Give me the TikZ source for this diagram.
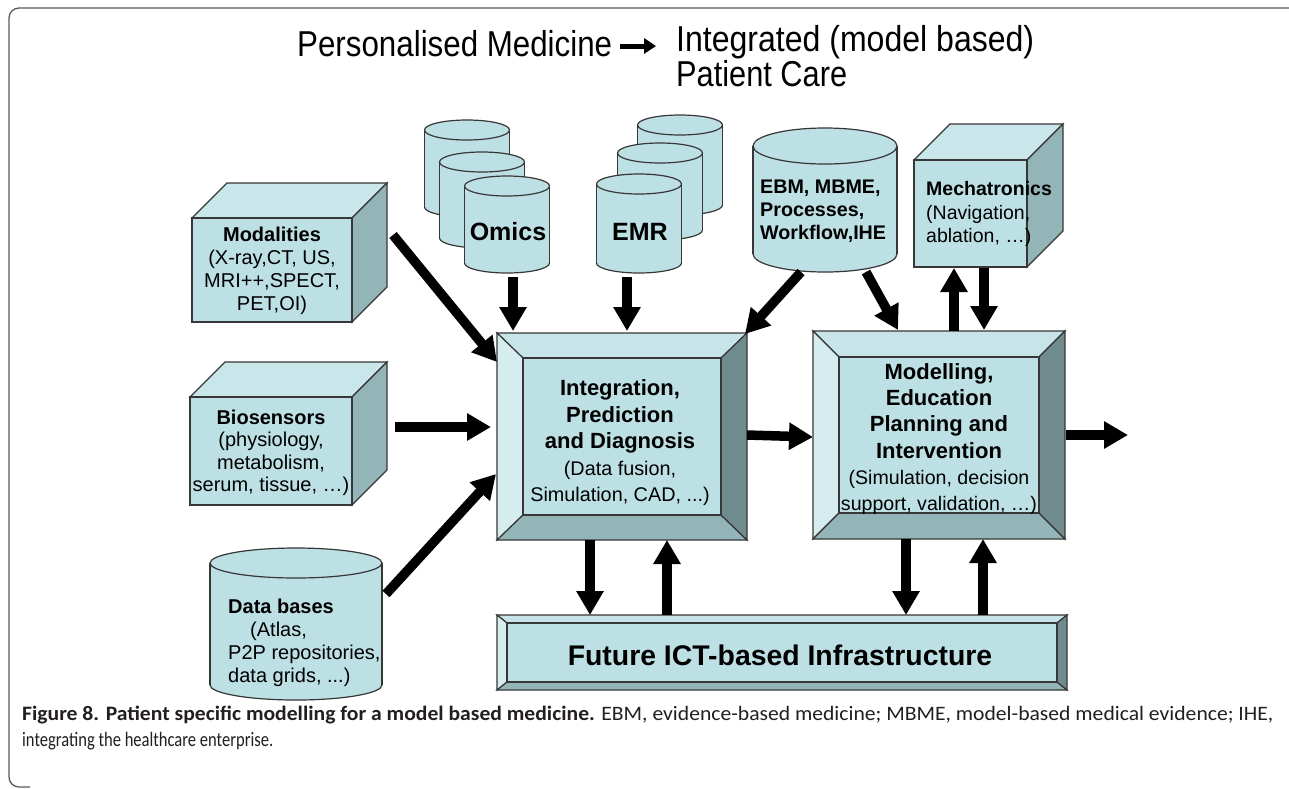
\documentclass[tikz,border=0pt]{standalone}
\usepackage{fontspec}
\usepackage{graphicx}
\setmainfont{Liberation Sans}
\newfontfamily\capfont{Carlito}
\usetikzlibrary{arrows.meta}
\definecolor{cface}{RGB}{189,224,228}
\definecolor{ctop}{RGB}{201,230,234}
\definecolor{cside}{RGB}{148,181,184}
\definecolor{btop}{RGB}{199,228,232}
\definecolor{bleft}{RGB}{214,237,240}
\definecolor{bbot}{RGB}{148,181,184}
\definecolor{bright}{RGB}{111,139,141}
\definecolor{edgecol}{RGB}{55,55,55}
\definecolor{framecol}{RGB}{90,90,90}
\definecolor{captext}{RGB}{35,31,32}
\tikzset{
  shapeline/.style={draw=edgecol, line width=1.2pt, line join=miter},
  bigarrow/.style={line width=9.5pt, -{Triangle[width=26pt,length=24pt]}},
  titlearrow/.style={line width=5pt, -{Triangle[width=15pt,length=12pt]}},
  txt/.style={inner sep=0pt, align=center, text=black},
  txtl/.style={inner sep=0pt, align=left, text=black},
}
\newcommand{\cubeshape}[5]{%
  \filldraw[shapeline, fill=ctop] (#1,#2) -- ({#1+#5},{#2-#5}) -- ({#3+#5},{#2-#5}) -- (#3,#2) -- cycle;
  \filldraw[shapeline, fill=cside] (#3,#2) -- ({#3+#5},{#2-#5}) -- ({#3+#5},{#4-#5}) -- (#3,#4) -- cycle;
  \filldraw[shapeline, fill=cface] (#1,#2) rectangle (#3,#4);
}
\newcommand{\cylshape}[5]{%
  \filldraw[shapeline, fill=cface] (#1,#3) ellipse [x radius=#4, y radius=#5];
  \fill[cface] ({#1-#4},#2) rectangle ({#1+#4},#3);
  \draw[shapeline] ({#1-#4},#2) -- ({#1-#4},#3) ({#1+#4},#2) -- ({#1+#4},#3);
  \filldraw[shapeline, fill=cface] (#1,#2) ellipse [x radius=#4, y radius=#5];
}
\newcommand{\bevelbox}[6]{%
  \filldraw[shapeline, fill=btop] (#1,#2) -- (#3,#2) -- ({#3-#5},{#2+#6}) -- ({#1+#5},{#2+#6}) -- cycle;
  \filldraw[shapeline, fill=bleft] (#1,#2) -- ({#1+#5},{#2+#6}) -- ({#1+#5},{#4-#6}) -- (#1,#4) -- cycle;
  \filldraw[shapeline, fill=bbot] (#1,#4) -- ({#1+#5},{#4-#6}) -- ({#3-#5},{#4-#6}) -- (#3,#4) -- cycle;
  \filldraw[shapeline, fill=bright] (#3,#2) -- ({#3-#5},{#2+#6}) -- ({#3-#5},{#4-#6}) -- (#3,#4) -- cycle;
  \filldraw[shapeline, fill=cface] ({#1+#5},{#2+#6}) rectangle ({#3-#5},{#4-#6});
}
\begin{document}
\begin{tikzpicture}[x=1pt, y=-1pt]
\useasboundingbox[fill=white] (0,0) rectangle (1289,788);
% frame
\draw[framecol, line width=1.3pt, rounded corners=10pt] (30,787) -- (9,787) -- (9,8) -- (1289,8);

% title
\node[anchor=base west, inner sep=0pt] (t1) at (297,56) {\resizebox{315pt}{\height}{\fontsize{36}{36}\selectfont Personalised Medicine}};
\node[anchor=base west, inner sep=0pt] (t2) at (676,51) {\resizebox{358pt}{\height}{\fontsize{36}{36}\selectfont Integrated (model based)}};
\node[anchor=base west, inner sep=0pt] (t3) at (676,86) {\resizebox{171pt}{\height}{\fontsize{36}{36}\selectfont Patient Care}};
\coordinate (ta) at (620,46);
\coordinate (tb) at (656,46);
\draw[titlearrow] (ta) -- (tb);

% cubes
\cubeshape{192}{218}{352}{322}{35}
\node[txt, font=\fontsize{20}{23}\selectfont] (modal) at (272,271) {\textbf{Modalities}\\(X-ray,CT, US,\\MRI++,SPECT,\\PET,OI)};
\cubeshape{190}{397}{352}{505}{35}
\node[txt, font=\fontsize{20}{22.5}\selectfont] (bios) at (271,453) {\textbf{Biosensors}\\(physiology,\\metabolism,\\serum, tissue, \dots)};
\cubeshape{914}{160}{1027}{267}{36}
\node[txtl, font=\fontsize{19.5}{23.5}\selectfont, anchor=west] (mech) at (926,214) {\textbf{Mechatronics}\\(Navigation,\\ablation, \dots)};

% cylinders
\cylshape{467}{130}{207}{42.5}{10}
\cylshape{482}{162}{238}{42.5}{10}
\cylshape{507}{186}{263}{42.5}{10}
\node[txt, font=\fontsize{25}{25}\selectfont\bfseries] (omics) at (508,232) {Omics};
\cylshape{680}{125}{205}{42.5}{10}
\cylshape{660}{153}{230}{42.5}{10}
\cylshape{639}{184}{263}{42.5}{10}
\node[txt, font=\fontsize{25}{25}\selectfont\bfseries] (emr) at (640,232) {EMR};
\cylshape{825}{146}{254}{72}{18}
\node[txtl, font=\fontsize{19.7}{23}\selectfont\bfseries, anchor=west] (ebm) at (760,211) {EBM, MBME,\\Processes,\\Workflow,IHE};
\cylshape{296}{563}{685}{86}{15}
\node[txtl, font=\fontsize{20}{23}\selectfont, anchor=north west] (dbase) at (228,599) {\textbf{Data bases}\\\hspace*{22pt}(Atlas,\\P2P repositories,\\data grids, ...)};

% bevel boxes
\bevelbox{497}{333}{747}{540}{26}{25}
\node[txt, font=\fontsize{22}{26.5}\selectfont] (integ) at (620,443) {\textbf{Integration,}\\\textbf{Prediction}\\\textbf{and Diagnosis}\\{\fontsize{19.8}{24}\selectfont (Data fusion,}\\{\fontsize{19.8}{24}\selectfont Simulation, CAD, ...)}};
\bevelbox{813}{331}{1065}{539}{26}{26}
\node[txt, font=\fontsize{22}{26.3}\selectfont] (model) at (939,439) {\textbf{Modelling,}\\\textbf{Education}\\\textbf{Planning and}\\\textbf{Intervention}\\{\fontsize{19.6}{24}\selectfont (Simulation, decision}\\{\fontsize{19.6}{24}\selectfont support, validation, \dots)}};
\bevelbox{497}{615}{1067}{690}{10}{8}
\node[txt, font=\fontsize{28.4}{30}\selectfont\bfseries] (infra) at (780,655) {Future ICT-based Infrastructure};

% connector anchor points
\coordinate (modA) at (393,235);   \coordinate (integA) at (497,362);
\coordinate (biosA) at (395,427);  \coordinate (integB) at (491,427);
\coordinate (dbA) at (386,594);    \coordinate (integC) at (496,474);
\coordinate (omA) at (513,277);    \coordinate (integD) at (513,331);
\coordinate (emA) at (627,277);    \coordinate (integE) at (627,331);
\coordinate (ebA) at (801,272);    \coordinate (integF) at (745,334);
\coordinate (ebB) at (866,272);    \coordinate (modelA) at (898,330);
\coordinate (modelB) at (954,331); \coordinate (mechA) at (954,268);
\coordinate (mechB) at (984,268);  \coordinate (modelC) at (984,330);
\coordinate (integG) at (747,435); \coordinate (modelD) at (813,437);
\coordinate (modelE) at (1066,435);\coordinate (outA) at (1128,435);
\coordinate (integH) at (590,540); \coordinate (infraA) at (590,615);
\coordinate (infraB) at (667,615); \coordinate (integI) at (667,540);
\coordinate (modelF) at (906,539); \coordinate (infraC) at (906,615);
\coordinate (infraD) at (983,615); \coordinate (modelG) at (983,539);

\draw[bigarrow] (modA) -- (integA);
\draw[bigarrow] (biosA) -- (integB);
\draw[bigarrow] (dbA) -- (integC);
\draw[bigarrow] (omA) -- (integD);
\draw[bigarrow] (emA) -- (integE);
\draw[bigarrow] (ebA) -- (integF);
\draw[bigarrow] (ebB) -- (modelA);
\draw[bigarrow] (modelB) -- (mechA);
\draw[bigarrow] (mechB) -- (modelC);
\draw[bigarrow] (integG) -- (modelD);
\draw[bigarrow] (modelE) -- (outA);
\draw[bigarrow] (integH) -- (infraA);
\draw[bigarrow] (infraB) -- (integI);
\draw[bigarrow] (modelF) -- (infraC);
\draw[bigarrow] (infraD) -- (modelG);

% caption
\node[anchor=base west, inner sep=0pt, text=captext] (cap1) at (22,720) {\resizebox{1251pt}{\height}{\capfont\fontsize{20.5}{20.5}\selectfont\textbf{Figure 8. Patient specific modelling for a model based medicine.} EBM, evidence-based medicine; MBME, model-based medical evidence; IHE,}};
\node[anchor=base west, inner sep=0pt, text=captext] (cap2) at (22,746) {\resizebox{251pt}{\height}{\capfont\fontsize{20.5}{20.5}\selectfont integrating the healthcare enterprise.}};
\end{tikzpicture}
\end{document}
